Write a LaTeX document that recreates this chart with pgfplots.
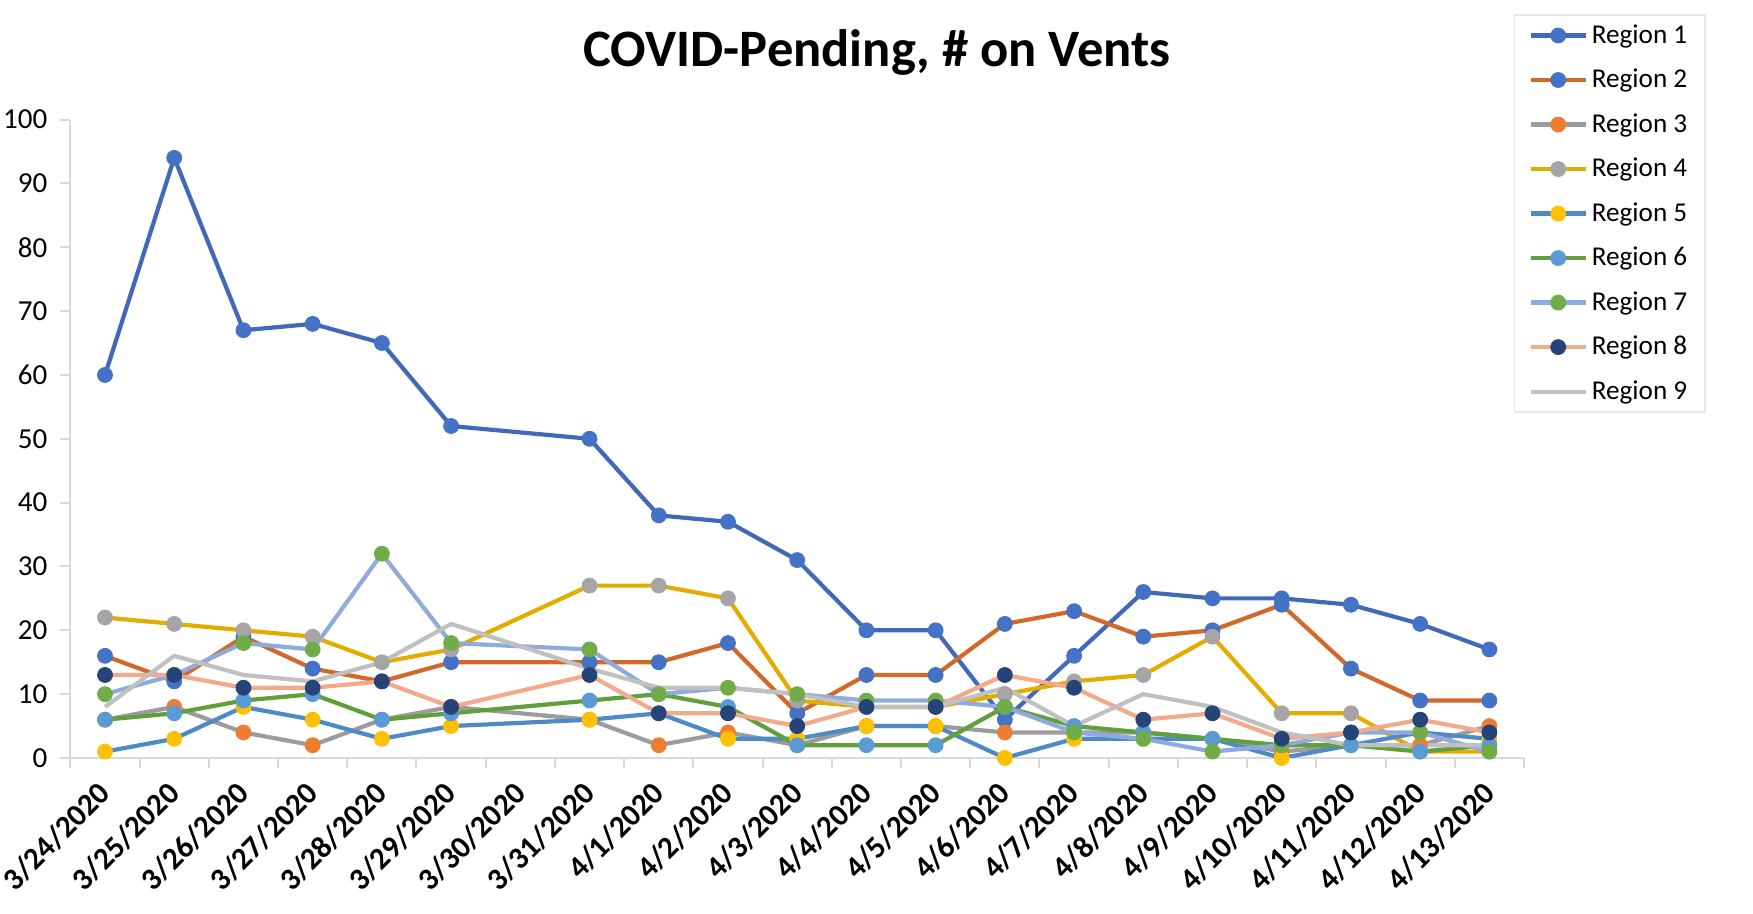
\documentclass[border=0pt]{standalone}
\usepackage{fontspec}
\setmainfont{Carlito}
\usepackage{pgfplots}
\usepackage{pgfplotstable}
\pgfplotsset{compat=1.18}

\definecolor{axisgray}{HTML}{D9D9D9}
\definecolor{legendgray}{HTML}{E6E6E6}
\definecolor{lA}{HTML}{4169B8}\definecolor{mA}{HTML}{4472C4}
\definecolor{lB}{HTML}{D0692A}\definecolor{mB}{HTML}{4472C4}
\definecolor{lC}{HTML}{9C9C9C}\definecolor{mC}{HTML}{ED7D31}
\definecolor{lD}{HTML}{E3AC00}\definecolor{mD}{HTML}{A5A5A5}
\definecolor{lE}{HTML}{4E8BC6}\definecolor{mE}{HTML}{FFC000}
\definecolor{lF}{HTML}{609F3C}\definecolor{mF}{HTML}{5B9BD5}
\definecolor{lG}{HTML}{8FAADC}\definecolor{mG}{HTML}{70AD47}
\definecolor{lH}{HTML}{F2A98C}\definecolor{mH}{HTML}{264478}
\definecolor{lI}{HTML}{C0C0C0}

\pgfplotstableread{
x  R1 R2 R3 R4 R5 R6 R7 R8 R9
0  60 16 6  22 1  6  10 13 8
1  94 12 8  21 3  7  13 13 16
2  67 19 4  20 8  9  18 11 13
3  68 14 2  19 6  10 17 11 12
4  65 12 6  15 3  6  32 12 15
5  52 15 8  17 5  7  18 8  21
7  50 15 6  27 6  9  17 13 14
8  38 15 2  27 7  10 10 7  11
9  37 18 4  25 3  8  11 7  11
10 31 7  2  9  3  2  10 5  10
11 20 13 5  8  5  2  9  8  8
12 20 13 5  8  5  2  9  8  8
13 6  21 4  10 0  8  8  13 11
14 16 23 4  12 3  5  4  11 5
15 26 19 4  13 3  4  3  6  10
16 25 20 3  19 3  3  1  7  8
17 25 24 1  7  0  2  2  3  4
18 24 14 2  7  2  2  4  4  2
19 21 9  2  1  4  1  4  6  2
20 17 9  5  1  3  2  1  4  2
}\datatable

\pgfplotsset{
  reg/.style 2 args={line width=2.1pt, line join=round, color=#1, mark=*, mark size=3.7pt,
     mark options={solid, line width=0.5pt, fill=#2, draw=#2}},
}

\begin{document}
\begin{tikzpicture}
\begin{axis}[
  at={(35.2pt,78pt)}, anchor=south west,
  scale only axis, width=726.8pt, height=319.2pt,
  xmin=-0.5, xmax=20.5, ymin=0, ymax=100,
  axis x line*=bottom, axis y line*=left,
  axis line style={draw=axisgray, line width=1pt, -},
  xtick={0,...,20},
  xticklabels={3/24/2020,3/25/2020,3/26/2020,3/27/2020,3/28/2020,3/29/2020,3/30/2020,3/31/2020,4/1/2020,4/2/2020,4/3/2020,4/4/2020,4/5/2020,4/6/2020,4/7/2020,4/8/2020,4/9/2020,4/10/2020,4/11/2020,4/12/2020,4/13/2020},
  minor xtick={-0.5,0.5,...,20.5},
  major x tick style={draw=none},
  minor x tick style={draw=axisgray, line width=1pt},
  tick align=outside, minor tick length=5pt, major tick length=5pt,
  ytick={0,10,...,100},
  ytick style={draw=axisgray, line width=1pt},
  /pgf/number format/assume math mode=true,
  yticklabel style={font=\fontsize{14.5}{16}\selectfont, xshift=-3pt},
  xticklabel style={font=\bfseries\fontsize{15.5}{18}\selectfont, xshift=0pt, yshift=-10pt, rotate=45, anchor=east, inner sep=0pt},
  title={COVID-Pending, \# on Vents},
  title style={font=\bfseries\fontsize{26.3}{30}\selectfont, at={(0.5549,1.086)}, anchor=center},
  legend style={at={(0.993,1.165)}, anchor=north west, draw=legendgray, line width=0.8pt,
    font=\fontsize{13.6}{15}\selectfont, inner xsep=7pt, inner ysep=2.8pt, row sep=7.4pt},
  legend cell align=left,
  legend image code/.code={\draw[mark repeat=2,mark phase=2,#1] plot coordinates {(0pt,0pt) (13.75pt,0pt) (27.5pt,0pt)};},
]
\addplot[reg={lA}{mA}] table[x=x,y=R1]{\datatable};
\addlegendentry{Region 1}
\addplot[reg={lB}{mB}] table[x=x,y=R2]{\datatable};
\addlegendentry{Region 2}
\addplot[reg={lC}{mC}] table[x=x,y=R3]{\datatable};
\addlegendentry{Region 3}
\addplot[reg={lD}{mD}] table[x=x,y=R4]{\datatable};
\addlegendentry{Region 4}
\addplot[reg={lE}{mE}] table[x=x,y=R5]{\datatable};
\addlegendentry{Region 5}
\addplot[reg={lF}{mF}] table[x=x,y=R6]{\datatable};
\addlegendentry{Region 6}
\addplot[reg={lG}{mG}] table[x=x,y=R7]{\datatable};
\addlegendentry{Region 7}
\addplot[reg={lH}{mH}] table[x=x,y=R8]{\datatable};
\addlegendentry{Region 8}
\addplot[line width=2.1pt, line join=round, color=lI, mark=none] table[x=x,y=R9]{\datatable};
\addlegendentry{Region 9}
\end{axis}
\pgfresetboundingbox
\path[use as bounding box] (0,0) rectangle (876.5pt,457pt);
\end{tikzpicture}
\end{document}
